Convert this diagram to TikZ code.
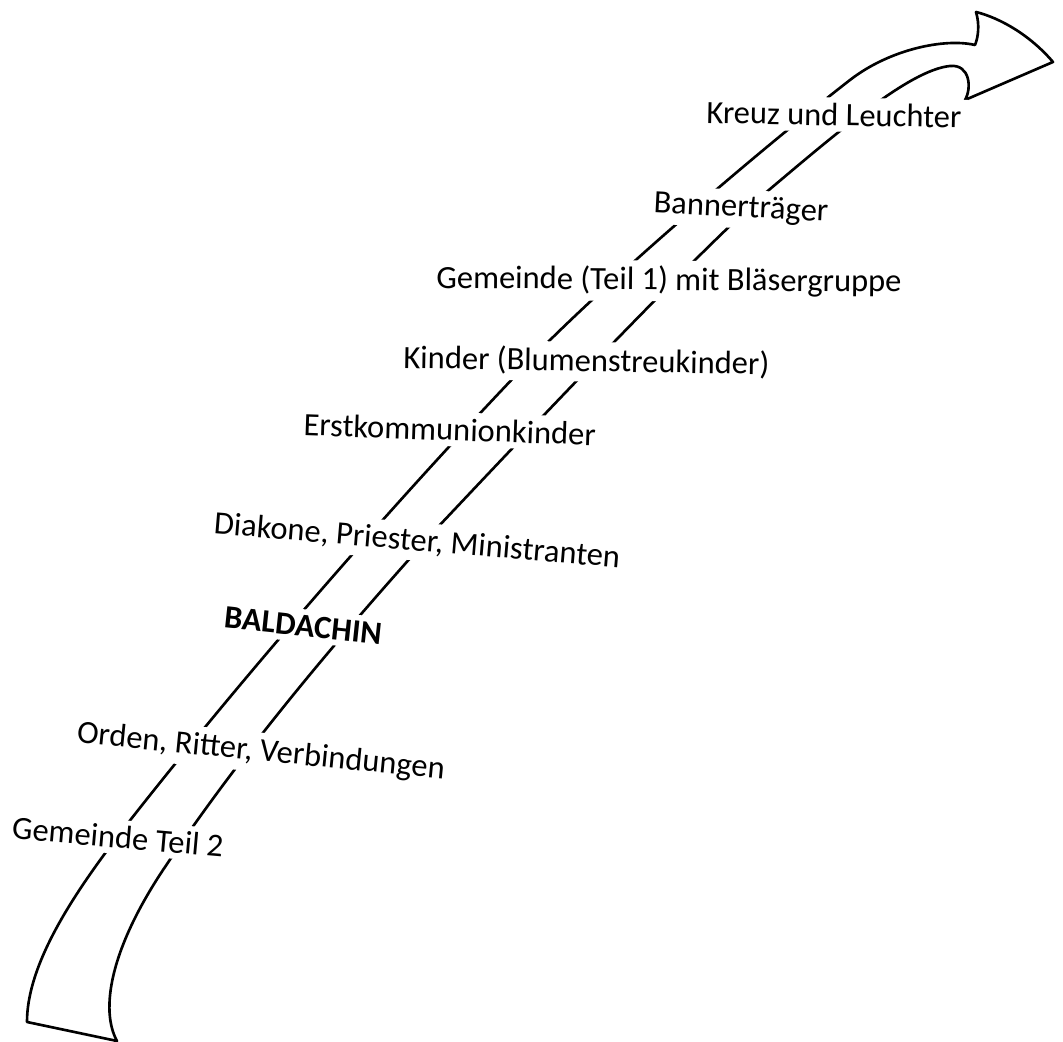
\documentclass[tikz,border=0pt]{standalone}
\usepackage{fontspec}
\setmainfont{Carlito}

\begin{document}
\begin{tikzpicture}[x=0.1mm, y=-0.1mm, line width=0.75pt, line join=round,
        gruppe/.style={fill=white, inner xsep=2pt, inner ysep=1.6pt, anchor=base west,
                       font=\fontsize{9.25}{11}\selectfont}]
        \useasboundingbox (0,0) rectangle (1063,1042);
        % the procession band with its arrow head
        \draw (27,1022) -- (117,1041)
            .. controls (100,1010) and (110,950) .. (163,870)
            .. controls (250,740) and (350,625) .. (438,527)
            .. controls (520,440) and (680,270) .. (763,195)
            .. controls (840,130) and (910,70) .. (950,66)
            .. controls (970,64) and (972,88) .. (965,100)
            -- (1053,62)
            .. controls (1030,35) and (1000,18) .. (976,12)
            .. controls (980,25) and (978,38) .. (975,45)
            .. controls (945,38) and (890,49) .. (850,80)
            .. controls (760,150) and (620,270) .. (542,348)
            .. controls (400,495) and (240,680) .. (128,823)
            .. controls (80,885) and (27,960) .. (27,1022)
            -- cycle;
        \node[gruppe, rotate=-1.1] (kreuz) at (698,123) {Kreuz und Leuchter};
        \node[gruppe, rotate=-3] (banner) at (645,212) {Bannerträger};
        \node[gruppe, rotate=-0.5] (gemeindeA) at (428,288) {Gemeinde (Teil 1) mit Bläsergruppe};
        \node[gruppe, rotate=-1] (kinder) at (395,368) {Kinder (Blumenstreukinder)};
        \node[gruppe, rotate=-2] (erstkomm) at (295,435) {Erstkommunionkinder};
        \node[gruppe, rotate=-4.8] (diakone) at (205,533) {Diakone, Priester, Ministranten};
        \node[gruppe, rotate=-6, font=\fontsize{9.25}{11}\selectfont\bfseries] (baldachin) at (215,627) {BALDACHIN};
        \node[gruppe, rotate=-5.6] (orden) at (68,742) {Orden, Ritter, Verbindungen};
        \node[gruppe, rotate=-5] (gemeindeB) at (3,838) {Gemeinde Teil 2};
\end{tikzpicture}
\end{document}
